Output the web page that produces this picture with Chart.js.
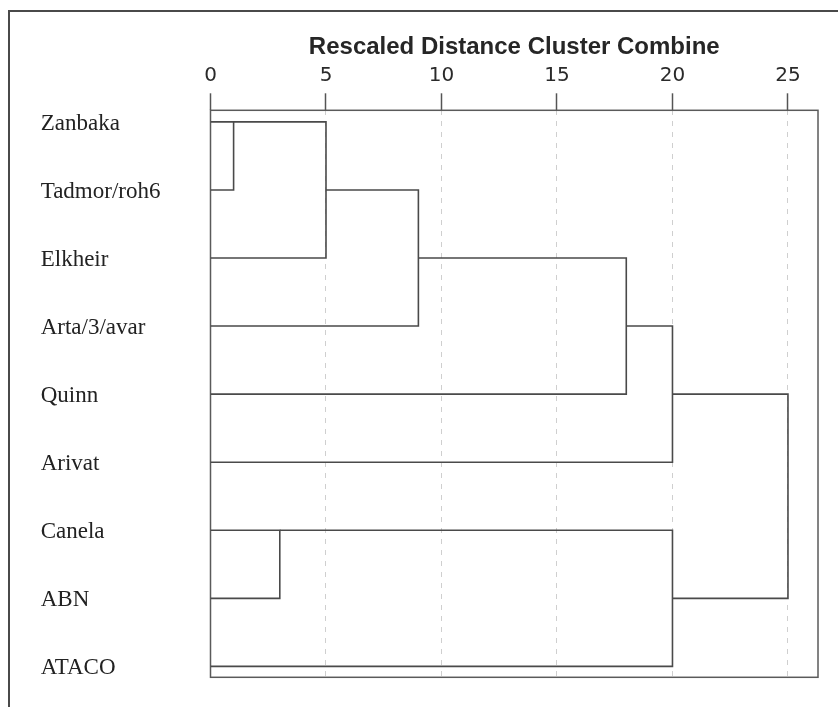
<!DOCTYPE html>
<html>
<head>
<meta charset="utf-8">
<title>Dendrogram</title>
<script src="https://cdn.jsdelivr.net/npm/chart.js@4"></script>
<style>
  html, body { margin: 0; padding: 0; background: #fff; overflow: hidden; }
  #wrap { position: relative; width: 838px; height: 707px; }
  #frame {
    position: absolute; left: 8px; top: 10px; width: 900px; height: 800px;
    border-left: 2px solid #4a4a4a; border-top: 2px solid #4a4a4a;
  }
</style>
</head>
<body>
<div id="wrap">
  <div id="frame"></div>
  <canvas id="dendro"></canvas>
</div>
<script>
// cases, top to bottom
const rowLabels = ["Zanbaka", "Tadmor/roh6", "Elkheir", "Arta/3/avar", "Quinn", "Arivat", "Canela", "ABN", "ATACO"];
const distTicks = [0, 5, 10, 15, 20, 25];

// agglomeration steps: ids 0-8 are cases, 9+ are the clusters made by each step
const mergeA = [0, 9, 10, 11, 12, 6, 14, 13];
const mergeB = [1, 2, 3, 4, 5, 7, 8, 15];
const mergeDist = [1, 5, 9, 18, 20, 3, 20, 25];

const LINE = "#4a4a4a";

// row and starting x of every node
const nodeRow = rowLabels.map((_, i) => i);
const nodeX = rowLabels.map(() => 0);

const brackets = [];
mergeA.forEach((a, k) => {
  const b = mergeB[k];
  const d = mergeDist[k];
  brackets.push({
    data: [
      { x: nodeX[a], y: nodeRow[a] },
      { x: d, y: nodeRow[a] },
      { x: d, y: nodeRow[b] },
      { x: nodeX[b], y: nodeRow[b] },
    ],
    showLine: true,
    borderColor: LINE,
    borderWidth: 1.6,
    pointRadius: 0,
    fill: false,
  });
  nodeRow.push(Math.floor((nodeRow[a] + nodeRow[b]) / 2));
  nodeX.push(d);
});

// box round the plot area
const boxPlugin = {
  id: "box",
  beforeDatasetsDraw(chart) {
    const { ctx, chartArea: a } = chart;
    ctx.save();
    ctx.strokeStyle = "#5a5a5a";
    ctx.lineWidth = 1.5;
    ctx.strokeRect(a.left, a.top, a.right - a.left, a.bottom - a.top);
    ctx.restore();
  },
};

new Chart(document.getElementById("dendro"), {
  type: "scatter",
  data: { datasets: brackets },
  options: {
    responsive: true,
    maintainAspectRatio: false,
    animation: false,
    layout: { padding: { left: 40.7, right: 20, top: 11, bottom: 29.7 } },
    plugins: { legend: { display: false }, tooltip: { enabled: false } },
    scales: {
      x: {
        type: "linear",
        position: "top",
        min: 0,
        max: 26.3,
        afterBuildTicks: (s) => { s.ticks = distTicks.map((v) => ({ value: v })); },
        afterFit: (s) => { s.height = 99.3; },
        ticks: {
          padding: 5.5,
          color: "#2a2a2a",
          font: { family: "DejaVu Sans", size: 20 },
        },
        grid: {
          color: "#cfcfcf",
          lineWidth: 1,
          tickLength: 17,
          tickColor: "#555",
          tickWidth: 1.5,
          tickBorderDash: [],
        },
        border: { display: false, dash: [5, 6] },
        title: {
          display: true,
          text: "Rescaled Distance Cluster Combine",
          color: "#262626",
          font: { family: "Liberation Sans", size: 24, weight: "bold" },
          padding: { top: 22, bottom: 0 },
        },
      },
      y: {
        type: "linear",
        reverse: true,
        min: -0.17,
        max: 8.16,
        afterBuildTicks: (s) => { s.ticks = rowLabels.map((_, i) => ({ value: i })); },
        afterFit: (s) => { s.width = 169.8; },
        ticks: {
          autoSkip: false,
          crossAlign: "far",
          labelOffset: 2,
          color: "#222",
          font: { family: "Liberation Serif", size: 23 },
          callback: (v) => rowLabels[Math.round(v)],
        },
        grid: { display: false, drawTicks: false },
        border: { display: false },
      },
    },
  },
  plugins: [boxPlugin],
});
</script>
</body>
</html>
